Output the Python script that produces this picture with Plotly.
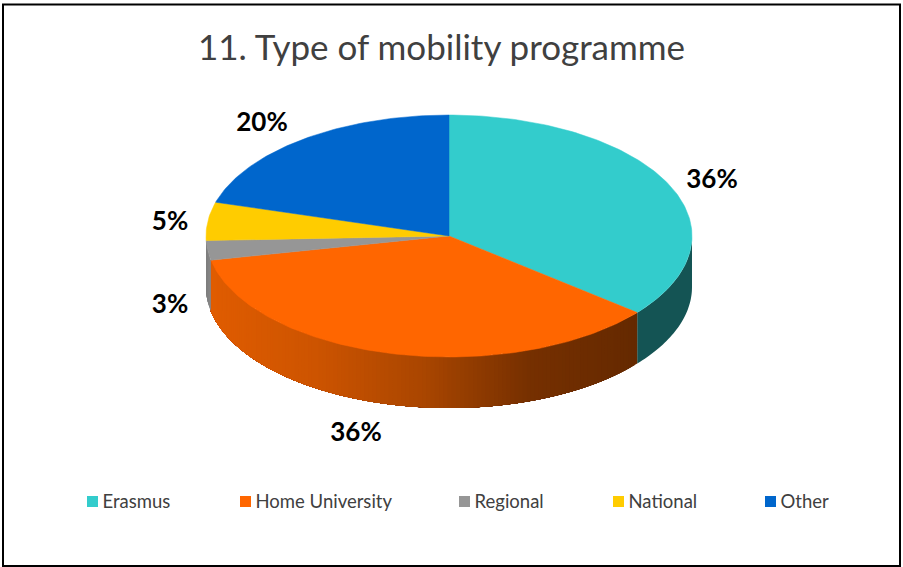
import math
import plotly.graph_objects as go

categories = ["Erasmus", "Home University", "Regional", "National", "Other"]
shares = [35.9, 35.9, 2.6, 5.1, 20.5]
percent_labels = ["36%", "36%", "3%", "5%", "20%"]
title_text = "11. Type of mobility programme"

COLORS = ["#33CCCC", "#FF6600", "#969696", "#FFCC00", "#0066CC"]
# side-wall colour ramps, from the right end of the wall to the left end
SIDE = {
    0: [(20, 84, 84), (20, 84, 84)],
    1: [(101, 41, 0), (118, 48, 0), (170, 70, 0), (205, 84, 0), (224, 92, 0)],
    2: [(135, 135, 135), (125, 125, 125)],
}
CX, CY, RX, RY, DEPTH = 449, 236, 243, 121, 51
LABEL_POS = [(712, 181), (356, 434), (170, 306), (170, 223), (262, 124)]
LEGEND_X = [92.5, 245.5, 464.5, 618.5, 770.5]
LEGEND_Y = 501.5
LEGEND_TEXT_DX = 10
LEGEND_TEXT_DY = 1.5
FONT = "Lato, Carlito, Calibri, sans-serif"


def pt(angle, drop=0):
    a = math.radians(angle)
    return CX + RX * math.sin(a), CY - RY * math.cos(a) + drop


def ramp(stops, t):
    p = max(0, min(1, t)) * (len(stops) - 1)
    i = min(int(p), len(stops) - 2)
    f = p - i
    c = [stops[i][k] + (stops[i + 1][k] - stops[i][k]) * f for k in range(3)]
    return "rgb(%d,%d,%d)" % tuple(round(v) for v in c)


fig = go.Figure()
total = sum(shares)
edges = [0]
for s in shares:
    edges.append(edges[-1] + s / total * 360)

# Side walls: visible between 90 and 270 degrees clockwise from 12 o'clock
for i, (a0, a1) in enumerate(zip(edges[:-1], edges[1:])):
    lo, hi = max(a0, 90), min(a1, 270)
    if lo >= hi or i not in SIDE:
        continue
    flat = SIDE[i][0] == SIDE[i][-1]
    n = 1 if flat else max(2, int((hi - lo) / 1.0))
    xlo, xhi = pt(lo)[0], pt(hi)[0]
    for j in range(n):
        b0 = lo + (hi - lo) * j / n
        # every strip runs on to the end of the wall, so the next one paints over it without a seam
        arc = [b0 + (hi - b0) * k / 40 for k in range(41)]
        top = [pt(b) for b in arc]
        bot = [pt(b, DEPTH) for b in reversed(arc)]
        xy = top + bot + top[:1]
        t = (pt(b0)[0] - xlo) / ((xhi - xlo) or 1)
        col = ramp(SIDE[i], t)
        fig.add_trace(go.Scatter(x=[p[0] for p in xy], y=[p[1] for p in xy], mode="none",
                                 fill="toself", fillcolor=col,
                                 hoverinfo="skip", showlegend=False))

# Top face
for i, (a0, a1) in enumerate(zip(edges[:-1], edges[1:])):
    n = max(4, int((a1 - a0) / 1.0))
    arc = [pt(a0 + (a1 - a0) * k / n) for k in range(n + 1)]
    xy = [(CX, CY)] + arc + [(CX, CY)]
    fig.add_trace(go.Scatter(x=[p[0] for p in xy], y=[p[1] for p in xy], mode="lines",
                             fill="toself", fillcolor=COLORS[i], line=dict(color=COLORS[i], width=0.5),
                             name=categories[i], text=percent_labels[i],
                             hoveron="fills", hoverinfo="name+text", showlegend=False))

# Percentage labels
fig.add_trace(go.Scatter(x=[p[0] for p in LABEL_POS], y=[p[1] for p in LABEL_POS], mode="text",
                         text=percent_labels, textposition="middle center",
                         textfont=dict(family=FONT, size=26, color="#000000", weight="bold"),
                         hoverinfo="skip", showlegend=False))

# Legend row: swatches, then their names
fig.add_trace(go.Scatter(x=LEGEND_X, y=[LEGEND_Y] * 5, mode="markers",
                         marker=dict(symbol="square", size=11, color=COLORS, line=dict(width=0)),
                         hoverinfo="skip", showlegend=False))
fig.add_trace(go.Scatter(x=[v + LEGEND_TEXT_DX for v in LEGEND_X], y=[LEGEND_Y + LEGEND_TEXT_DY] * 5,
                         mode="text", text=categories, textposition="middle right",
                         textfont=dict(family=FONT, size=18.5, color="#404040"),
                         hoverinfo="skip", showlegend=False))

fig.update_layout(
    width=903, height=567, margin=dict(l=0, r=0, t=0, b=0),
    paper_bgcolor="#FFFFFF", plot_bgcolor="#FFFFFF", showlegend=False,
    xaxis=dict(range=[0, 903], visible=False, fixedrange=True),
    yaxis=dict(range=[567, 0], visible=False, fixedrange=True),
    annotations=[dict(text=title_text, x=441, y=46, xref="x", yref="y", showarrow=False,
                      font=dict(family=FONT, size=35, color="#404040"))],
    shapes=[dict(type="rect", x0=3, y0=4.5, x1=900, y1=566, xref="x", yref="y",
                 line=dict(color="#000000", width=2), layer="below")],
)
fig.write_html("out.html", config={"displayModeBar": False},
               post_script="document.body.style.margin='0';document.documentElement.style.overflow='hidden';")
